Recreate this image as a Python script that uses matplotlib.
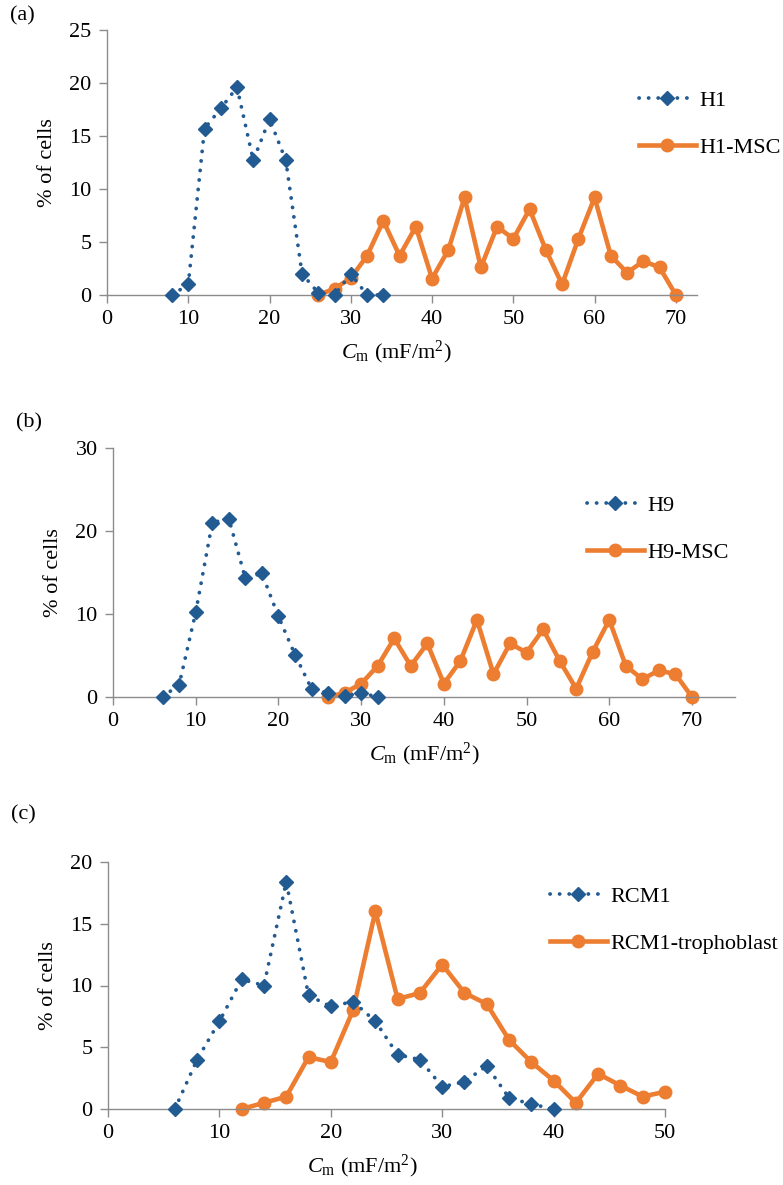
import matplotlib
matplotlib.use('Agg')
import matplotlib.pyplot as plt
import numpy as np

plt.rcParams['font.family'] = ['Liberation Serif', 'DejaVu Serif']
plt.rcParams['mathtext.fontset'] = 'custom'
plt.rcParams['mathtext.rm'] = 'Liberation Serif'
plt.rcParams['mathtext.it'] = 'Liberation Serif:italic'

# panel (a)
h1_x = [8, 10, 12, 14, 16, 18, 20, 22, 24, 26, 28, 30, 32, 34]
h1_y = [0, 1.0, 15.7, 17.6, 19.6, 12.7, 16.6, 12.7, 2.0, 0.2, 0, 2.0, 0, 0]
h1msc_x = list(range(26, 71, 2))
h1msc_y = [0, 0.6, 1.6, 3.7, 7.0, 3.7, 6.45, 1.55, 4.25, 9.2, 2.6, 6.45, 5.3,
           8.1, 4.25, 1.0, 5.3, 9.2, 3.7, 2.1, 3.2, 2.6, 0]

# panel (b)
h9_x = list(range(6, 33, 2))
h9_y = [0, 1.5, 10.2, 21.0, 21.5, 14.3, 14.9, 9.7, 5.1, 1.0, 0.5, 0.1, 0.5, 0]
h9msc_x = list(range(26, 71, 2))
h9msc_y = [0, 0.5, 1.6, 3.75, 7.05, 3.75, 6.45, 1.6, 4.35, 9.3, 2.75, 6.45, 5.35,
           8.15, 4.35, 1.0, 5.45, 9.3, 3.75, 2.15, 3.2, 2.75, 0]

# panel (c)
rcm1_x = list(range(6, 41, 2))
rcm1_y = [0, 4.0, 7.1, 10.5, 10.0, 18.4, 9.2, 8.3, 8.7, 7.1, 4.4, 4.0, 1.8,
          2.2, 3.5, 0.9, 0.4, 0]
troph_x = list(range(12, 51, 2))
troph_y = [0, 0.5, 1.0, 4.2, 3.8, 8.0, 16.0, 8.9, 9.4, 11.7, 9.4, 8.5, 5.6,
           3.8, 2.3, 0.5, 2.85, 1.9, 1.0, 1.4]

BLUE = '#225A92'
ORANGE = '#ED7D31'
AXC = '#8c8c8c'
FS = 16

W, H = 783, 1185
fig = plt.figure(figsize=(W / 100, H / 100), dpi=100)


def px_ax(l, t, r, b):
    return fig.add_axes([l / W, 1 - b / H, (r - l) / W, (b - t) / H])


def style(ax, xlim, ylim, xt, yt):
    ax.set_xlim(*xlim)
    ax.set_ylim(*ylim)
    ax.set_xticks(xt)
    ax.set_yticks(yt)
    for s in ['top', 'right']:
        ax.spines[s].set_visible(False)
    for s in ['left', 'bottom']:
        ax.spines[s].set_color(AXC)
        ax.spines[s].set_linewidth(1.0)
    ax.tick_params(direction='out', length=6, width=1.0, color=AXC,
                   labelsize=FS, pad=5)
    ax.set_ylabel('% of cells', fontsize=FS, labelpad=9)


def draw(ax, bx, by, ox, oy, blab, olab):
    ax.plot(bx, by, color=BLUE, lw=2.7, linestyle=(0, (0.05, 2.5)),
            dash_capstyle='round', marker='D', ms=7.5, mec=BLUE, mfc=BLUE,
            label=blab, clip_on=False, zorder=3)
    ax.plot(ox, oy, color=ORANGE, lw=3.3, marker='o', ms=9, mec=ORANGE,
            mfc=ORANGE, label=olab, clip_on=False, zorder=2)


def legend(ax, x0, ymid):
    ax.legend(loc='center left', bbox_to_anchor=(x0 / W, 1 - ymid / H),
              bbox_transform=fig.transFigure, frameon=False, fontsize=FS,
              handlelength=2.55, handletextpad=0.15, borderpad=0,
              borderaxespad=0, labelspacing=1.2, numpoints=1)


xlab = r'$C_\mathrm{m}$ (mF/m$^2$)'

# (a)
ax1 = px_ax(107, 30, 697, 295)
draw(ax1, h1_x, h1_y, h1msc_x, h1msc_y, 'H1', 'H1-MSC')
style(ax1, (0, 72.6), (0, 25), range(0, 71, 10), range(0, 26, 5))
legend(ax1, 639, 124)
fig.text(396 / W, 1 - 352 / H, xlab, ha='center', va='center', fontsize=FS)
fig.text(10 / W, 1 - 16 / H, '(a)', ha='left', va='center', fontsize=FS)

# (b)
ax2 = px_ax(113, 448, 735, 697)
draw(ax2, h9_x, h9_y, h9msc_x, h9msc_y, 'H9', 'H9-MSC')
style(ax2, (0, 75.2), (0, 30), range(0, 71, 10), range(0, 31, 10))
legend(ax2, 587, 529)
fig.text(424 / W, 1 - 754 / H, xlab, ha='center', va='center', fontsize=FS)
fig.text(16 / W, 1 - 423 / H, '(b)', ha='left', va='center', fontsize=FS)

# (c)
ax3 = px_ax(108, 862, 665, 1109)
draw(ax3, rcm1_x, rcm1_y, troph_x, troph_y, 'RCM1', 'RCM1-trophoblast')
style(ax3, (0, 50), (0, 20), range(0, 51, 10), range(0, 21, 5))
legend(ax3, 550, 920)
fig.text(362 / W, 1 - 1166 / H, xlab, ha='center', va='center', fontsize=FS)
fig.text(11 / W, 1 - 815 / H, '(c)', ha='left', va='center', fontsize=FS)

fig.savefig('out.png', dpi=100)
